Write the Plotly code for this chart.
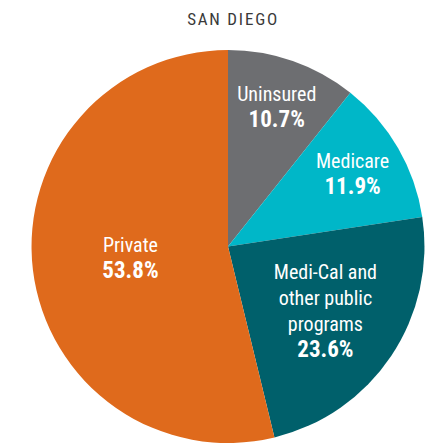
import plotly.graph_objects as go

categories = ["Uninsured", "Medicare", "Medi-Cal and<br>other public<br>programs", "Private"]
values = [10.7, 11.9, 23.6, 53.8]
colors = ["#6d6e71", "#00b7c8", "#00606b", "#df6a1c"]
title_text = "SAN DIEGO"

FONT = "Roboto Condensed, Open Sans Condensed, sans-serif"

fig = go.Figure(go.Pie(
    labels=categories,
    values=values,
    sort=False,
    direction="clockwise",
    rotation=0,
    marker=dict(colors=colors, line=dict(width=0)),
    texttemplate="%{label}<br><span style='font-size:23px'><b>%{value:.1f}%</b></span>",
    textposition="inside",
    insidetextorientation="horizontal",
    textfont=dict(family=FONT, size=20, color="white"),
    hoverinfo="label+value",
    domain=dict(x=[31/434, 425/434], y=[0, 0.887]),
))

fig.update_layout(
    width=434, height=443,
    margin=dict(l=0, r=0, t=0, b=0),
    showlegend=False,
    paper_bgcolor="white",
    title=dict(text="\u200a".join(title_text), x=0.535, xanchor="center", y=1 - 19/443, yanchor="middle",
               font=dict(family=FONT, size=17, color="#3a3a3a")),
    uniformtext=dict(minsize=18, mode="show"),
)

fig.write_html("out.html", config={"displayModeBar": False},
               post_script="document.body.style.margin='0'")
